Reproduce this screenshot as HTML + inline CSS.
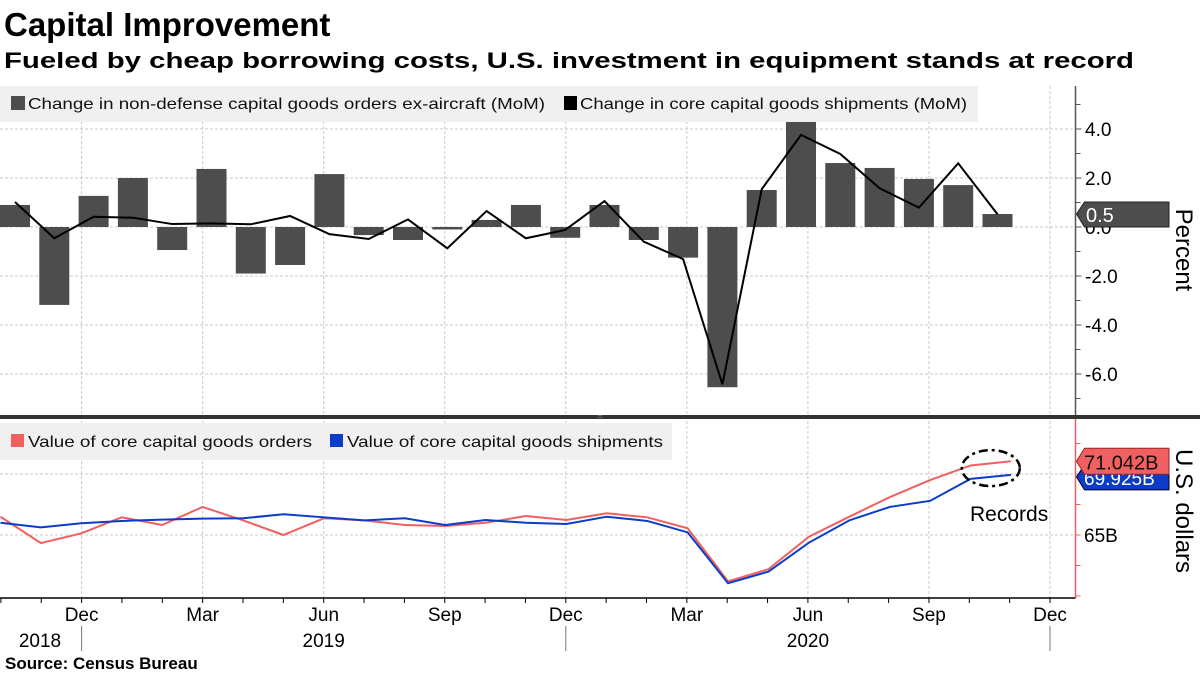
<!DOCTYPE html>
<html><head><meta charset="utf-8"><style>
html,body{margin:0;padding:0;background:#fff;}
svg{display:block;font-family:"Liberation Sans","DejaVu Sans",sans-serif;}
</style></head><body>
<svg id="chart" width="1200" height="675" viewBox="0 0 1200 675" xmlns="http://www.w3.org/2000/svg">
<text x="4" y="36" font-size="33" font-weight="bold" fill="#000">Capital Improvement</text>
<text x="4" y="68" font-size="22" font-weight="bold" fill="#000" textLength="1130" lengthAdjust="spacingAndGlyphs">Fueled by cheap borrowing costs, U.S. investment in equipment stands at record</text>
<g id="gridg"></g>
<g id="topg"></g>
<g id="botg"></g>
<g id="xaxisg"></g>
<rect x="0" y="86" width="978" height="36" fill="#f0f0f0"/>
<rect x="11" y="96" width="14" height="14" fill="#4d4d4d"/>
<text x="28" y="109" font-size="16" fill="#111" textLength="517" lengthAdjust="spacingAndGlyphs">Change in non-defense capital goods orders ex-aircraft (MoM)</text>
<rect x="564" y="96" width="13" height="14" fill="#000"/>
<text x="580" y="109" font-size="16" fill="#111" textLength="387" lengthAdjust="spacingAndGlyphs">Change in core capital goods shipments (MoM)</text>
<rect x="0" y="423" width="672" height="37" fill="#f0f0f0"/>
<rect x="11" y="434" width="13" height="13" fill="#f06060"/>
<text x="28" y="447" font-size="16" fill="#111" textLength="284" lengthAdjust="spacingAndGlyphs">Value of core capital goods orders</text>
<rect x="330" y="434" width="13" height="13" fill="#0b3cc8"/>
<text x="347" y="447" font-size="16" fill="#111" textLength="316" lengthAdjust="spacingAndGlyphs">Value of core capital goods shipments</text>
<rect x="0" y="415" width="1200" height="4" fill="#333"/>
<text x="600" y="419" font-size="8" fill="#888" text-anchor="middle">=</text>
<text transform="translate(1176,250) rotate(90)" font-size="24" text-anchor="middle" fill="#000">Percent</text>
<text transform="translate(1176,511) rotate(90)" font-size="24" text-anchor="middle" fill="#000">U.S. dollars</text>
<text x="5" y="669" font-size="17" font-weight="bold" fill="#000">Source:  Census Bureau</text>
</svg>
<script>
const ordersMoM=[0.9,-3.18,1.27,2.0,-0.94,2.37,-1.9,-1.55,2.16,-0.33,-0.53,-0.1,0.29,0.9,-0.44,0.9,-0.53,-1.25,-6.54,1.51,4.29,2.61,2.41,1.96,1.71,0.53];
const shipMoM=[1.02,-0.46,0.42,0.38,0.12,0.15,0.11,0.45,-0.29,-0.49,0.31,-0.87,0.65,-0.46,-0.12,1.06,-0.6,-1.31,-6.42,1.54,3.76,2.98,1.58,0.79,2.6,0.52];
const ordersVal=[66.5,64.34,65.14,66.45,65.82,67.3,66.2,65.0,66.37,66.2,65.82,65.74,66.0,66.56,66.23,66.78,66.45,65.55,61.2,62.2,64.86,66.5,68.1,69.5,70.7,71.042];
const shipVal=[66.0,65.63,65.96,66.15,66.26,66.34,66.37,66.7,66.45,66.2,66.37,65.82,66.23,66.0,65.9,66.5,66.15,65.22,61.05,62.0,64.37,66.2,67.3,67.8,69.6,69.925];
const topTicks=[4,2,0,-2,-4,-6];
const topTickLabels=["4.0","2.0","0.0","-2.0","-4.0","-6.0"];
const botGrid=[70,65];
const botTickLabels=["","65B"];
const quarterLabels=["Dec","Mar","Jun","Sep","Dec","Mar","Jun","Sep","Dec"];
const quarterMonthIdx=[2,5,8,11,14,17,20,23,26];
const yearLabels=["2018","2019","2020"];
const yearLabelIdx=[0.6,8,20];

const NS="http://www.w3.org/2000/svg";
function mk(tag,attrs,parent,txt){const e=document.createElementNS(NS,tag);for(const k in attrs)e.setAttribute(k,attrs[k]);if(txt!==undefined)e.textContent=txt;parent.appendChild(e);return e;}
const AX=1075.5;
const xb=i=>15+39.3*i;
const xl=i=>0.5+40.42*i;
const xq=m=>81.6+(m-2)*40.35;
const yT=v=>227-24.5*v;
const yB=v=>535-12.2*(v-65);
const gGrid=document.getElementById('gridg'),gTop=document.getElementById('topg'),gBot=document.getElementById('botg'),gXa=document.getElementById('xaxisg');

quarterMonthIdx.forEach((m,k)=>{
  const g=mk('line',{x1:xq(m),x2:xq(m),y1:86,y2:598,stroke:'#c8c8c8','stroke-dasharray':'3,2','stroke-width':1},gGrid);
  
  
});
topTicks.forEach((v,k)=>{
  const l=mk('line',{x1:0,x2:AX,y1:yT(v),y2:yT(v),stroke:'#c8c8c8','stroke-dasharray':'3,2'},gGrid);
  
  
  const t=mk('text',{x:1085,y:yT(v)+7,'font-size':19,fill:'#000'},gTop,topTickLabels[k]);
  
  
  mk('line',{x1:AX,x2:AX+6,y1:yT(v),y2:yT(v),stroke:'#555'},gTop);
});
for(let v=5;v>=-7;v-=2){const yy=yT(v);if(yy<86||yy>414)continue;const m=mk('line',{x1:AX,x2:AX+5,y1:yy,y2:yy,stroke:'#555'},gTop);}
const tax=mk('line',{x1:AX,x2:AX,y1:86,y2:415,stroke:'#555','stroke-width':1.5},gTop);


ordersMoM.forEach((v,i)=>{
  const y0=yT(0),y1=yT(v);
  const r=mk('rect',{x:xb(i)-15,y:Math.min(y0,y1),width:30,height:Math.abs(y1-y0),fill:'#4d4d4d'},gTop);
  
  
});
const sl=mk('polyline',{points:shipMoM.map((v,i)=>xb(i)+','+yT(v)).join(' '),fill:'none',stroke:'#000','stroke-width':2},gTop);


{const v=ordersMoM[ordersMoM.length-1],y=yT(v);
const p=mk('path',{d:`M${AX+1},${y} L${AX+9},${y-12} L1169,${y-12} L1169,${y+13} L${AX+9},${y+13} Z`,fill:'#4d4d4d',stroke:'#222'},gTop);


const t=mk('text',{x:1086,y:y+8,'font-size':20,fill:'#fff'},gTop,v.toFixed(1));

}

botGrid.forEach((v,k)=>{
  const l=mk('line',{x1:0,x2:AX,y1:yB(v),y2:yB(v),stroke:'#c8c8c8','stroke-dasharray':'3,2'},gGrid);
  
  
  if(botTickLabels[k]){const t=mk('text',{x:1084,y:yB(v)+7,'font-size':19,fill:'#000'},gBot,botTickLabels[k]);}
});
for(let v=57.5;v<=72.5;v+=2.5){const yy=yB(v);if(yy>598||yy<420)continue;const m=mk('line',{x1:AX,x2:AX+5,y1:yy,y2:yy,stroke:'#f06060'},gBot);}
const bax=mk('line',{x1:AX,x2:AX,y1:419,y2:598,stroke:'#f06060','stroke-width':1.5},gBot);


const ol=mk('polyline',{points:ordersVal.map((v,i)=>xl(i)+','+yB(v)).join(' '),fill:'none',stroke:'#f06060','stroke-width':2},gBot);


const bl=mk('polyline',{points:shipVal.map((v,i)=>xl(i)+','+yB(v)).join(' '),fill:'none',stroke:'#0b3cc8','stroke-width':2},gBot);


{const v=shipVal[shipVal.length-1],y=yB(v)+2;
const p=mk('path',{d:`M${AX+1},${y} L${AX+9},${y-12} L1169,${y-12} L1169,${y+13} L${AX+9},${y+13} Z`,fill:'#0b3cc8',stroke:'#002'},gBot);


const t=mk('text',{x:1084,y:y+8,'font-size':19,fill:'#fff'},gBot,v.toFixed(3)+'B');

}
{const v=ordersVal[ordersVal.length-1],y=yB(v);
const p=mk('path',{d:`M${AX+1},${y} L${AX+9},${y-13} L1169,${y-13} L1169,${y+13} L${AX+9},${y+13} Z`,fill:'#f06060',stroke:'#922'},gBot);


const t=mk('text',{x:1084,y:y+8,'font-size':20,fill:'#111'},gBot,v.toFixed(3)+'B');

}
{const n=ordersVal.length;const cx=(xl(n-2)+xl(n-1))/2,cy=(yB(ordersVal[n-1])+yB(shipVal[n-1]))/2;
const e=mk('ellipse',{cx:cx,cy:cy,rx:29,ry:18,fill:'none',stroke:'#000','stroke-width':2.5,'stroke-dasharray':'9,4,3,4'},gBot);


const t=mk('text',{x:970,y:521,'font-size':21,fill:'#000'},gBot,'Records');

}

const xline=mk('line',{x1:0,x2:AX,y1:598,y2:598,stroke:'#000','stroke-width':1.5},gXa);


for(let m=0;m<=26;m++){const x=xq(m);if(x<0||x>AX)continue;const t=mk('line',{x1:x,x2:x,y1:598,y2:603,stroke:'#000'},gXa);}
quarterLabels.forEach((s,k)=>{
  const t=mk('text',{x:xq(quarterMonthIdx[k]),y:621,'font-size':19,'text-anchor':'middle',fill:'#000'},gXa,s);
  
  
});
yearLabels.forEach((s,k)=>{
  const x=k===0?40:xq(yearLabelIdx[k]);
  const t=mk('text',{x:x,y:647,'font-size':19,'text-anchor':'middle',fill:'#000'},gXa,s);
  
  
});
[2,14,26].forEach(m=>{const l=mk('line',{x1:xq(m),x2:xq(m),y1:626,y2:651,stroke:'#777'},gXa);});
</script>
</body></html>
